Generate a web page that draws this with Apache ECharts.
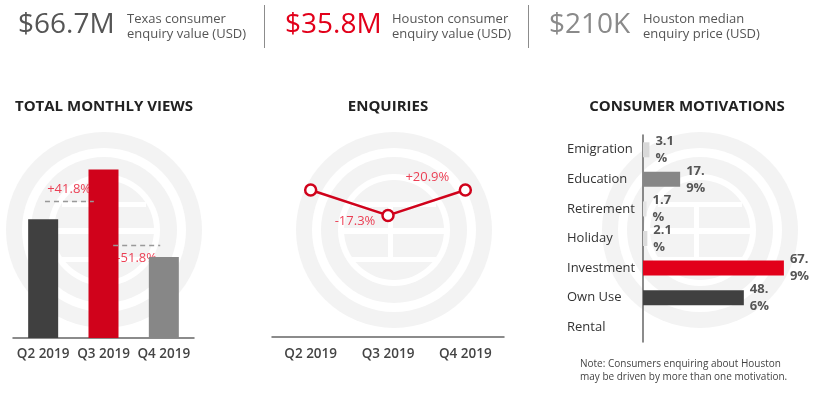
<!DOCTYPE html>
<html><head><meta charset="utf-8">
<script src="https://cdn.jsdelivr.net/npm/echarts@6/dist/echarts.min.js"></script>
<style>html,body{margin:0;padding:0;background:#fff}#c{width:821px;height:394px}</style>
</head><body><div id="c"></div>
<script>
// ---- data ----
const quarters = ['Q2 2019', 'Q3 2019', 'Q4 2019'];
const monthlyViews = [100, 141.8, 68.3];          // relative index
const viewsChange = ['+41.8%', '-51.8%'];
const enquiries = [100, 82.7, 100];               // relative index read from point heights
const enquiriesChange = ['-17.3%', '+20.9%'];
const motivations = ['Emigration', 'Education', 'Retirement', 'Holiday', 'Investment', 'Own Use', 'Rental'];
const motivationShare = [3.1, 17.9, 1.7, 2.1, 67.9, 48.6, null];
const kpiValues = ['$66.7M', '$35.8M', '$210K'];
const kpiLabels = ['Texas consumer\nenquiry value (USD)', 'Houston consumer\nenquiry value (USD)', 'Houston median\nenquiry price (USD)'];

const FONT = '"Open Sans", "Noto Sans", sans-serif';
const RED = '#d0021b';
const viewColors = ['#404040', RED, '#878787'];
const motColors = ['#d9d9d9', '#878787', '#e4e4e4', '#dcdcdc', '#e2001a', '#404040', '#cccccc'];

function watermark(cx, cy) {
  const g = '#f3f3f3';
  return {
    type: 'group', z: -10, silent: true,
    children: [
      {type: 'circle', shape: {cx, cy, r: 98}, style: {fill: g}},
      {type: 'circle', shape: {cx, cy, r: 82}, style: {fill: '#fff'}},
      {type: 'circle', shape: {cx, cy, r: 73}, style: {fill: g}},
      {type: 'circle', shape: {cx, cy, r: 56}, style: {fill: '#fff'}},
      {type: 'circle', shape: {cx, cy, r: 50}, style: {fill: g}},
      {type: 'rect', shape: {x: cx - 52, y: cy - 2, width: 104, height: 6}, style: {fill: '#fff'}},
      {type: 'rect', shape: {x: cx - 42, y: cy - 28, width: 84, height: 5}, style: {fill: '#fff'}},
      {type: 'rect', shape: {x: cx - 42, y: cy + 27, width: 84, height: 5}, style: {fill: '#fff'}},
      {type: 'rect', shape: {x: cx - 6, y: cy - 28, width: 5, height: 58}, style: {fill: '#fff'}}
    ]
  };
}

const kpiX = [18, 285, 549];
const kpiLabelX = [127, 392, 643];
const kpiColors = ['#555555', '#e2001a', '#8a8a8a'];
const graphics = [watermark(104, 230), watermark(394, 230), watermark(700, 230)];
kpiValues.forEach((v, i) => {
  graphics.push({type: 'text', left: kpiX[i], top: 11, z: 5,
    style: {text: v, font: '28px ' + FONT, fill: kpiColors[i]}});
  graphics.push({type: 'text', left: kpiLabelX[i], top: 12, z: 5,
    style: {text: kpiLabels[i], font: '13px ' + FONT, fill: '#555', lineHeight: 15}});
});
graphics.push({type: 'line', shape: {x1: 264.5, y1: 5, x2: 264.5, y2: 48}, style: {stroke: '#8c8c8c', lineWidth: 1}});
graphics.push({type: 'line', shape: {x1: 528.5, y1: 5, x2: 528.5, y2: 48}, style: {stroke: '#8c8c8c', lineWidth: 1}});
graphics.push({type: 'text', left: 580, top: 358, z: 5,
  style: {text: 'Note: Consumers enquiring about Houston\nmay be driven by more than one motivation.', font: '10px ' + FONT, fill: '#444', lineHeight: 12.5}});

const titleStyle = {fontFamily: FONT, fontSize: 15, fontWeight: 'bold', color: '#222'};
const catLabel = {fontFamily: FONT, fontSize: 13.5, fontWeight: 600, color: '#444', interval: 0};
const axisLine = {show: true, lineStyle: {color: '#666', width: 1.5}};

const option = {
  animation: false,
  backgroundColor: '#fff',
  textStyle: {fontFamily: FONT},
  title: [
    {text: 'TOTAL MONTHLY VIEWS', left: 99, top: 94, textAlign: 'center', textStyle: titleStyle},
    {text: 'ENQUIRIES', left: 383, top: 94, textAlign: 'center', textStyle: titleStyle},
    {text: 'CONSUMER MOTIVATIONS', left: 682, top: 94, textAlign: 'center', textStyle: titleStyle}
  ],
  graphic: graphics,
  grid: [
    {left: 13, width: 181, top: 148, height: 190},
    {left: 272, width: 232, top: 116.5, height: 220.5},
    {left: 643, width: 166, top: 135, height: 207}
  ],
  xAxis: [
    {gridIndex: 0, type: 'category', data: quarters, axisLine, axisTick: {show: false},
      axisLabel: Object.assign({margin: 9}, catLabel)},
    {gridIndex: 1, type: 'category', data: quarters, axisLine, axisTick: {show: false},
      axisLabel: Object.assign({margin: 10}, catLabel)},
    {gridIndex: 2, type: 'value', min: 0, max: 80, show: false},
    {gridIndex: 0, type: 'value', min: 0, max: 3, show: false}
  ],
  yAxis: [
    {gridIndex: 0, type: 'value', min: 0, max: 160, show: false},
    {gridIndex: 1, type: 'value', min: 0, max: 150, show: false},
    {gridIndex: 2, type: 'category', data: motivations, inverse: true,
      axisLine, axisTick: {show: false},
      axisLabel: {fontFamily: FONT, fontSize: 13, fontWeight: 500, color: '#333', align: 'left', margin: 76}},
    {gridIndex: 0, type: 'value', min: 0, max: 160, show: false}
  ],
  series: [
    {type: 'bar', xAxisIndex: 0, yAxisIndex: 0, barWidth: 30, z: 3,
      data: monthlyViews.map((v, i) => ({value: v, itemStyle: {color: viewColors[i]}})),
      label: {show: false}},
    {type: 'line', xAxisIndex: 3, yAxisIndex: 3, symbol: 'none', z: 2,
      data: [],
      markLine: {symbol: 'none', silent: true,
        lineStyle: {type: [5, 4], color: '#999', width: 1.3},
        label: {show: false},
        data: [
          [{coord: [0.53, 115.3]}, {coord: [1.34, 115.3]}],
          [{coord: [1.66, 78.4]}, {coord: [2.44, 78.4]}]
        ]}},
    {type: 'scatter', xAxisIndex: 3, yAxisIndex: 3, symbolSize: 0, z: 2,
      label: {show: true, position: 'inside', fontFamily: FONT, fontSize: 13, color: '#e8102a',
        formatter: p => p.data.t},
      data: [
        {value: [0.93, 125.5], t: viewsChange[0]},
        {value: [2.05, 67.5], t: viewsChange[1]}
      ]},
    {type: 'line', xAxisIndex: 1, yAxisIndex: 1, data: enquiries,
      symbol: 'circle', symbolSize: 11,
      lineStyle: {color: RED, width: 2.5},
      itemStyle: {color: '#fff', borderColor: RED, borderWidth: 2.5},
      label: {show: false}},
    {type: 'scatter', xAxisIndex: 1, yAxisIndex: 1, symbolSize: 0,
      label: {show: true, position: 'inside', fontFamily: FONT, fontSize: 13, color: '#e8102a',
        formatter: p => p.data.t, offset: [0, 0]},
      data: [
        {value: [quarters[1], 78.5], t: enquiriesChange[0], label: {offset: [-33, 0]}},
        {value: [quarters[2], 108.5], t: enquiriesChange[1], label: {offset: [-38, 0]}}
      ]},
    {type: 'bar', xAxisIndex: 2, yAxisIndex: 2, barWidth: 15,
      data: motivationShare.map((v, i) => ({value: v, itemStyle: {color: motColors[i]}})),
      label: {show: true, position: 'right', distance: 6, fontFamily: FONT, fontSize: 13,
        fontWeight: 'bold', color: '#555', lineHeight: 17,
        formatter: p => {
          if (p.value == null || p.value === '-') return '';
          const s = p.value + '%';
          return s.slice(0, 3) + '\n' + s.slice(3);
        }}}
  ]
};
const chart = echarts.init(document.getElementById('c'), null, {renderer: 'canvas'});
chart.setOption(option);
</script></body></html>
